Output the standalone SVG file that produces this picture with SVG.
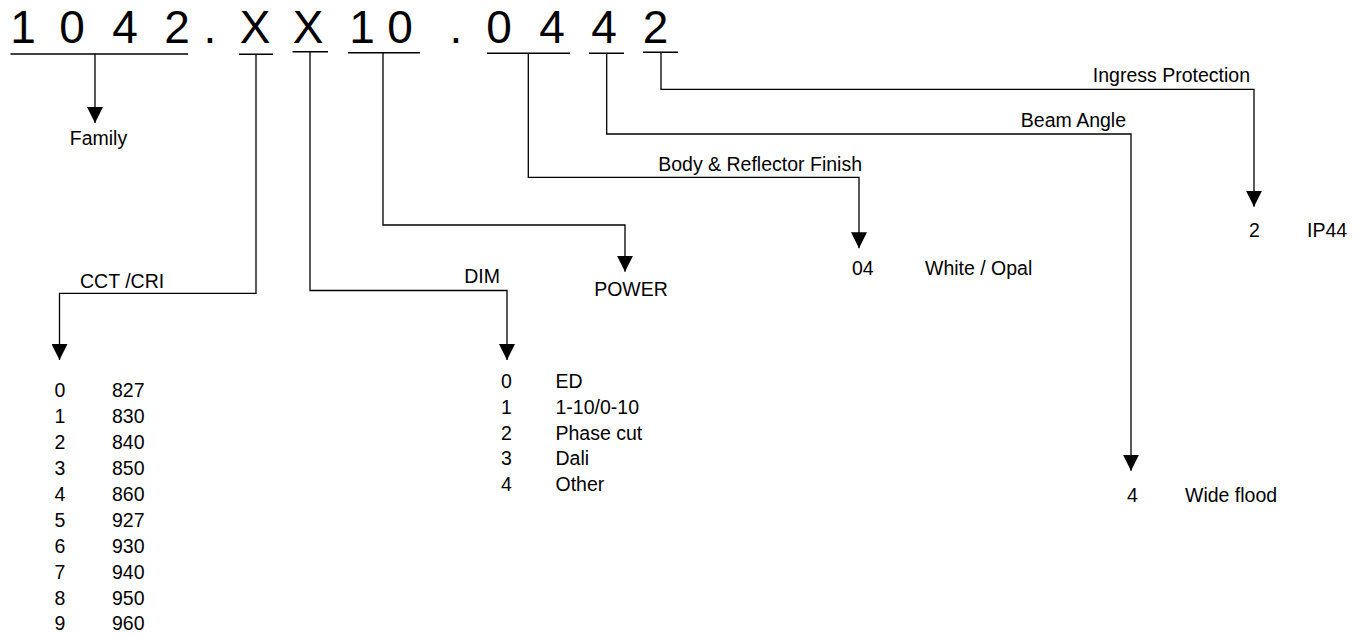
<svg xmlns="http://www.w3.org/2000/svg" width="1363" height="637" viewBox="0 0 1363 637">
<style>
text{font-family:"Liberation Sans",Arial,sans-serif;fill:#000}
.code{font-size:46px;text-anchor:middle}
.lbl{font-size:19.5px}
.ul{stroke:#000;stroke-width:1.4;fill:none}
.con{stroke:#000;stroke-width:1.3;fill:none;marker-end:url(#arr)}
.e{text-anchor:end}
.m{text-anchor:middle}
</style>
<defs>
<marker id="arr" markerUnits="userSpaceOnUse" markerWidth="16" markerHeight="16" viewBox="0 0 16 16" refX="16" refY="8" orient="auto">
<path d="M0,0 L16,8 L0,16 z" fill="#000"/>
</marker>
</defs>
<rect width="1363" height="637" fill="#fff"/>
<g id="code">
<text class="code" x="23" y="43">1</text>
<text class="code" x="72" y="43">0</text>
<text class="code" x="125" y="43">4</text>
<text class="code" x="177" y="43">2</text>
<text class="code" x="210" y="43">.</text>
<text class="code" x="255" y="43">X</text>
<text class="code" x="308" y="43">X</text>
<text class="code" x="362" y="43">1</text>
<text class="code" x="400" y="43">0</text>
<text class="code" x="456" y="43">.</text>
<text class="code" x="499" y="43">0</text>
<text class="code" x="552" y="43">4</text>
<text class="code" x="604" y="43">4</text>
<text class="code" x="655.5" y="43">2</text>
<line class="ul" x1="10.5" y1="54" x2="188" y2="54"/>
<line class="ul" x1="239" y1="54.3" x2="273" y2="54.3"/>
<line class="ul" x1="292.5" y1="51.7" x2="328" y2="51.7"/>
<line class="ul" x1="348" y1="52.7" x2="420" y2="52.7"/>
<line class="ul" x1="487" y1="53.3" x2="570" y2="53.3"/>
<line class="ul" x1="589" y1="53.3" x2="624" y2="53.3"/>
<line class="ul" x1="643" y1="52.3" x2="678" y2="52.3"/>
</g>
<g id="connectors">
<path class="con" d="M95,54 V123"/>
<path class="con" d="M256,54.3 V293.3 H59.5 V360"/>
<path class="con" d="M310,51.7 V290.5 H507 V360"/>
<path class="con" d="M383,52.7 V225 H625 V271.7"/>
<path class="con" d="M528.3,53.3 V177.3 H859 V248.3"/>
<path class="con" d="M606.7,53.3 V134 H1131 V470.7"/>
<path class="con" d="M661,52.3 V89.3 H1254 V206.7"/>
</g>
<g id="family">
<text class="lbl m" x="98.5" y="145">Family</text>
</g>
<g id="cct">
<text class="lbl" x="80" y="288">CCT /CRI</text>
<text class="lbl" x="54.5" y="397.3">0</text><text class="lbl" x="112" y="397.3">827</text>
<text class="lbl" x="54.5" y="423.2">1</text><text class="lbl" x="112" y="423.2">830</text>
<text class="lbl" x="54.5" y="449.1">2</text><text class="lbl" x="112" y="449.1">840</text>
<text class="lbl" x="54.5" y="475">3</text><text class="lbl" x="112" y="475">850</text>
<text class="lbl" x="54.5" y="500.9">4</text><text class="lbl" x="112" y="500.9">860</text>
<text class="lbl" x="54.5" y="526.8">5</text><text class="lbl" x="112" y="526.8">927</text>
<text class="lbl" x="54.5" y="552.7">6</text><text class="lbl" x="112" y="552.7">930</text>
<text class="lbl" x="54.5" y="578.6">7</text><text class="lbl" x="112" y="578.6">940</text>
<text class="lbl" x="54.5" y="604.5">8</text><text class="lbl" x="112" y="604.5">950</text>
<text class="lbl" x="54.5" y="630.4">9</text><text class="lbl" x="112" y="630.4">960</text>
</g>
<g id="dim">
<text class="lbl e" x="500" y="283">DIM</text>
<text class="lbl" x="501" y="388">0</text><text class="lbl" x="555.5" y="388">ED</text>
<text class="lbl" x="501" y="413.8">1</text><text class="lbl" x="555.5" y="413.8">1-10/0-10</text>
<text class="lbl" x="501" y="439.6">2</text><text class="lbl" x="555.5" y="439.6">Phase cut</text>
<text class="lbl" x="501" y="465.4">3</text><text class="lbl" x="555.5" y="465.4">Dali</text>
<text class="lbl" x="501" y="491.2">4</text><text class="lbl" x="555.5" y="491.2">Other</text>
</g>
<g id="power">
<text class="lbl m" x="631" y="296">POWER</text>
</g>
<g id="finish">
<text class="lbl e" x="862" y="171">Body &amp; Reflector Finish</text>
<text class="lbl" x="852" y="275">04</text>
<text class="lbl" x="925" y="275">White / Opal</text>
</g>
<g id="beam">
<text class="lbl e" x="1126" y="127">Beam Angle</text>
<text class="lbl" x="1127" y="502">4</text>
<text class="lbl" x="1185" y="502">Wide flood</text>
</g>
<g id="ip">
<text class="lbl e" x="1250" y="82">Ingress Protection</text>
<text class="lbl" x="1249" y="237">2</text>
<text class="lbl" x="1307" y="237">IP44</text>
</g>
</svg>
